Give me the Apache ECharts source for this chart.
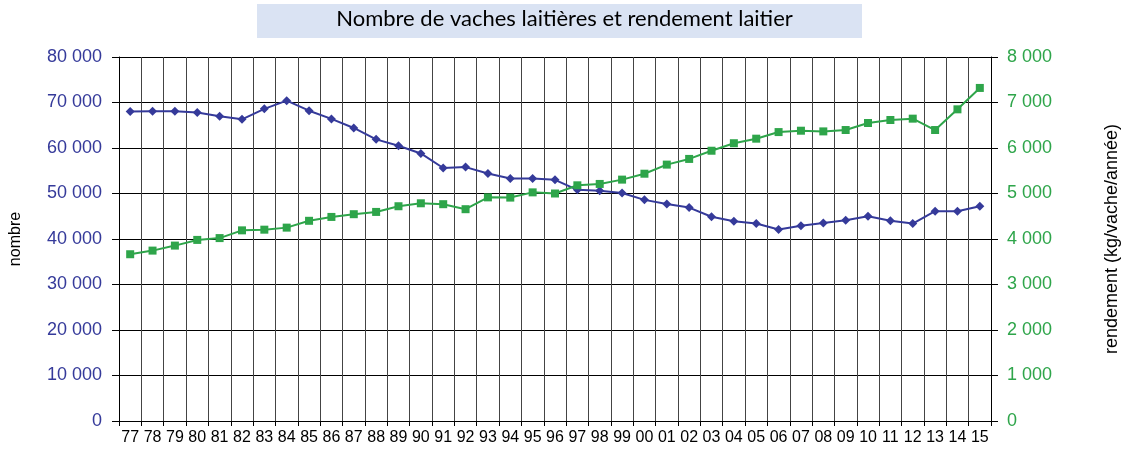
<!DOCTYPE html>
<html>
<head>
<meta charset="utf-8">
<script src="https://cdn.jsdelivr.net/npm/echarts@6/dist/echarts.min.js"></script>
<style>
  html, body { margin: 0; padding: 0; background: #fff; }
  #chart { width: 1129px; height: 451px; }
</style>
</head>
<body>
<div id="chart"></div>
<script>
const years = ["77","78","79","80","81","82","83","84","85","86","87","88","89","90","91","92","93","94","95","96","97","98","99","00","01","02","03","04","05","06","07","08","09","10","11","12","13","14","15"];

// nombre de vaches laitières (axe gauche)
const cows = [68000, 68100, 68100, 67800, 67000, 66300, 68600, 70400, 68200, 66400, 64400, 61900, 60500, 58800, 55600, 55800, 54400, 53300, 53300, 53000, 50800, 50600, 50100, 48600, 47700, 46900, 44900, 43900, 43400, 42100, 42900, 43500, 44100, 45000, 44000, 43400, 46100, 46100, 47200];

// rendement kg/vache/année (axe droit)
const yieldKg = [3665, 3745, 3855, 3980, 4020, 4190, 4205, 4250, 4400, 4485, 4545, 4595, 4720, 4785, 4765, 4655, 4915, 4910, 5025, 5000, 5180, 5210, 5305, 5435, 5635, 5760, 5940, 6105, 6205, 6350, 6380, 6365, 6395, 6550, 6615, 6645, 6395, 6850, 7320];

const titleText = "Nombre de vaches laitières et rendement laitier";

const blue = "#353a9a";
const green = "#2ea54a";
const font = "Liberation Sans, Arial, sans-serif";
const fmt = v => String(v).replace(/\B(?=(\d{3})+(?!\d))/g, " ");

const chart = echarts.init(document.getElementById("chart"));
chart.setOption({
  animation: false,
  graphic: [
    {
      type: "rect",
      left: 257, top: 4,
      shape: { width: 605, height: 34 },
      style: { fill: "#dae3f3" }
    },
    {
      type: "text",
      left: "center", top: 8,
      x: -4,
      style: { text: titleText, font: "22px Lato", fill: "#000" }
    }
  ],
  grid: { left: 117, right: 123, top: 57, bottom: 30 },
  xAxis: {
    type: "category",
    data: years,
    boundaryGap: true,
    axisLine: { lineStyle: { color: "#000", width: 1 } },
    axisTick: { show: true, length: 5, lineStyle: { color: "#000" } },
    axisLabel: { color: "#000", fontFamily: font, fontSize: 16, margin: 9, interval: 0 },
    splitLine: { show: true, lineStyle: { color: "#444", width: 1 } }
  },
  yAxis: [
    {
      type: "value",
      min: 0, max: 80000, interval: 10000,
      position: "left",
      name: "nombre",
      nameLocation: "middle",
      nameRotate: 90,
      nameGap: 95,
      nameTextStyle: { color: "#000", fontFamily: font, fontSize: 16 },
      axisLine: { show: true, lineStyle: { color: "#000" } },
      axisTick: { show: true, length: 7, lineStyle: { color: "#000" } },
      axisLabel: { color: blue, fontFamily: font, fontSize: 18, margin: 17, formatter: fmt },
      splitLine: { show: true, lineStyle: { color: "#000", width: 1 } }
    },
    {
      type: "value",
      min: 0, max: 8000, interval: 1000,
      position: "right",
      name: "rendement (kg/vache/année)",
      nameLocation: "middle",
      nameRotate: 90,
      nameGap: 112,
      nameTextStyle: { color: "#000", fontFamily: font, fontSize: 18 },
      axisLine: { show: true, lineStyle: { color: "#000" } },
      axisTick: { show: true, length: 7, lineStyle: { color: "#000" } },
      axisLabel: { color: green, fontFamily: font, fontSize: 18, margin: 16, formatter: fmt },
      splitLine: { show: false }
    }
  ],
  series: [
    {
      name: "nombre",
      type: "line",
      yAxisIndex: 0,
      data: cows,
      symbol: "diamond",
      symbolSize: 9,
      lineStyle: { color: blue, width: 2 },
      itemStyle: { color: blue }
    },
    {
      name: "rendement",
      type: "line",
      yAxisIndex: 1,
      data: yieldKg,
      symbol: "rect",
      symbolSize: 8,
      lineStyle: { color: green, width: 2 },
      itemStyle: { color: green }
    }
  ]
});
</script>
</body>
</html>
